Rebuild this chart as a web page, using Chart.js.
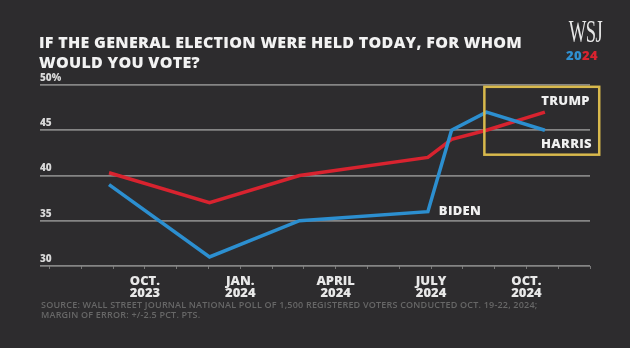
<!DOCTYPE html>
<html><head><meta charset="utf-8">
<script src="https://cdn.jsdelivr.net/npm/chart.js@4.4.1/dist/chart.umd.min.js"></script>
<style>
html,body{margin:0;padding:0;background:#2d2c2e;}
#wrap{position:relative;width:630px;height:348px;overflow:hidden;background:#2d2c2e;font-family:'Open Sans',sans-serif;}
#c{position:absolute;left:0;top:0;}
.title{position:absolute;left:39px;top:32px;font-size:16px;line-height:20px;font-weight:800;color:#f2f2f2;white-space:nowrap;letter-spacing:0.3px;}
.logo{position:absolute;left:560px;top:17px;width:44px;text-align:center;}
.wsj{font-family:'Liberation Serif',serif;font-size:31px;line-height:30px;color:#e6e6e6;transform:scaleX(0.6);transform-origin:center;letter-spacing:-1px;}
.yr{font-family:'Open Sans',sans-serif;font-weight:800;font-size:13px;line-height:14px;margin-top:1px;letter-spacing:0.4px;}
.b{color:#2f8fd0}.r{color:#d8232f}
.src{position:absolute;left:41px;top:300px;font-size:9px;line-height:10px;color:#676767;font-weight:600;white-space:nowrap;letter-spacing:0.2px;}
</style></head>
<body><div id="wrap">
<canvas id="c" width="630" height="348"></canvas>
<div class="title">IF THE GENERAL ELECTION WERE HELD TODAY, FOR WHOM<br>WOULD YOU VOTE?</div>
<div class="logo"><div class="wsj">WSJ</div><div class="yr"><span class="b">20</span><span class="r">24</span></div></div>
<div class="src">SOURCE: WALL STREET JOURNAL NATIONAL POLL OF 1,500 REGISTERED VOTERS CONDUCTED OCT. 19-22, 2024;<br>MARGIN OF ERROR: +/-2.5 PCT. PTS.</div>
</div>
<script>
// ---- data ----
const pollDates = ['2023-08-28','2023-12-02','2024-02-26','2024-06-28','2024-07-21','2024-08-24','2024-10-19'];
const trumpValues = [40.3, 37, 40, 42, 44, 45, 47];
const bidenHarrisValues = [39, 31, 35, 36, 45, 47, 45];
const xTickDates = ['2023-10-01','2024-01-01','2024-04-01','2024-07-01','2024-10-01'];
const xTickLabels = [['OCT.','2023'],['JAN.','2024'],['APRIL','2024'],['JULY','2024'],['OCT.','2024']];
const yTickValues = [30, 35, 40, 45, 50];
const yTickLabels = ['30', '35', '40', '45', '50%'];
const xRangeDates = ['2023-06-22', '2024-12-01'];
const seriesNames = ['TRUMP', 'HARRIS', 'BIDEN'];

// months since Oct 1, 2023
function monthIndex(s){
  const [y,m,d] = s.split('-').map(Number);
  const dim = new Date(y, m, 0).getDate();
  return (y-2023)*12 + (m-10) + (d-1)/dim;
}
const xs = pollDates.map(monthIndex);
const tickMonths = xTickDates.map(monthIndex);

const RED = '#d8232f', BLUE = '#2c8fd0';

const annot = {
  id: 'annot',
  afterDatasetsDraw(chart){
    const {ctx, scales:{x, y}} = chart;
    ctx.save();
    // highlight box around latest polls
    const bx0 = x.getPixelForValue(monthIndex('2024-08-22'));
    const bx1 = x.getPixelForValue(monthIndex('2024-12-10'));
    const by0 = y.getPixelForValue(49.8);
    const by1 = y.getPixelForValue(42.3);
    ctx.strokeStyle = '#d8b94c';
    ctx.lineWidth = 2.5;
    ctx.strokeRect(bx0, by0, bx1-bx0, by1-by0);
    ctx.fillStyle = '#f0f0f0';
    ctx.font = "800 13px 'Open Sans'";
    ctx.textAlign = 'center';
    ctx.textBaseline = 'middle';
    try { ctx.letterSpacing = '0.3px'; } catch(e){}
    const lab = [[seriesNames[0], 13.23, 48.23],[seriesNames[1], 13.26, 43.48],[seriesNames[2], 9.91, 36.0]];
    lab.forEach(([t, mx, vy]) => ctx.fillText(t, x.getPixelForValue(mx), y.getPixelForValue(vy)));
    ctx.restore();
  }
};

new Chart(document.getElementById('c'), {
  type: 'line',
  data: {
    datasets: [
      { label: 'Biden / Harris', data: xs.map((v,i)=>({x:v, y:bidenHarrisValues[i]})), borderColor: BLUE, borderWidth: 3.5, pointRadius: 0, tension: 0, borderJoinStyle:'miter' },
      { label: 'Trump', data: xs.map((v,i)=>({x:v, y:trumpValues[i]})), borderColor: RED, borderWidth: 3.5, pointRadius: 0, tension: 0, borderJoinStyle:'miter' }
    ]
  },
  options: {
    responsive: false, animation: false,
    layout: { padding: { left: 40, right: 40, top: 85, bottom: 22 } },
    plugins: { legend: { display: false }, tooltip: { enabled: false } },
    scales: {
      x: {
        type: 'linear',
        min: monthIndex(xRangeDates[0]), max: monthIndex(xRangeDates[1]),
        afterFit(s){ s.height = 60; },
        border: { display: false },
        grid: { drawOnChartArea: false, drawTicks: true, tickLength: 3, tickColor: '#777' },
        ticks: {
          stepSize: 1, includeBounds: false, autoSkip: false, maxRotation: 0, padding: 6,
          color: '#e8e8e8', font: { family: 'Open Sans', weight: '800', size: 13, lineHeight: 0.95 },
          callback(v){ const i = tickMonths.findIndex(t => Math.abs(t - v) < 1e-6); return i >= 0 ? xTickLabels[i] : ''; }
        }
      },
      y: {
        min: yTickValues[0], max: yTickValues[yTickValues.length-1],
        border: { display: false },
        grid: { color: '#858585', lineWidth: 1.8, drawTicks: false },
        ticks: {
          stepSize: 5, mirror: true, padding: 0, labelOffset: -7,
          color: '#d8d8d8', font: { family: 'Open Sans', weight: '800', size: 10 },
          callback(v){ const i = yTickValues.indexOf(v); return i >= 0 ? yTickLabels[i] : ''; }
        }
      }
    }
  },
  plugins: [annot]
});
</script>
</body></html>
